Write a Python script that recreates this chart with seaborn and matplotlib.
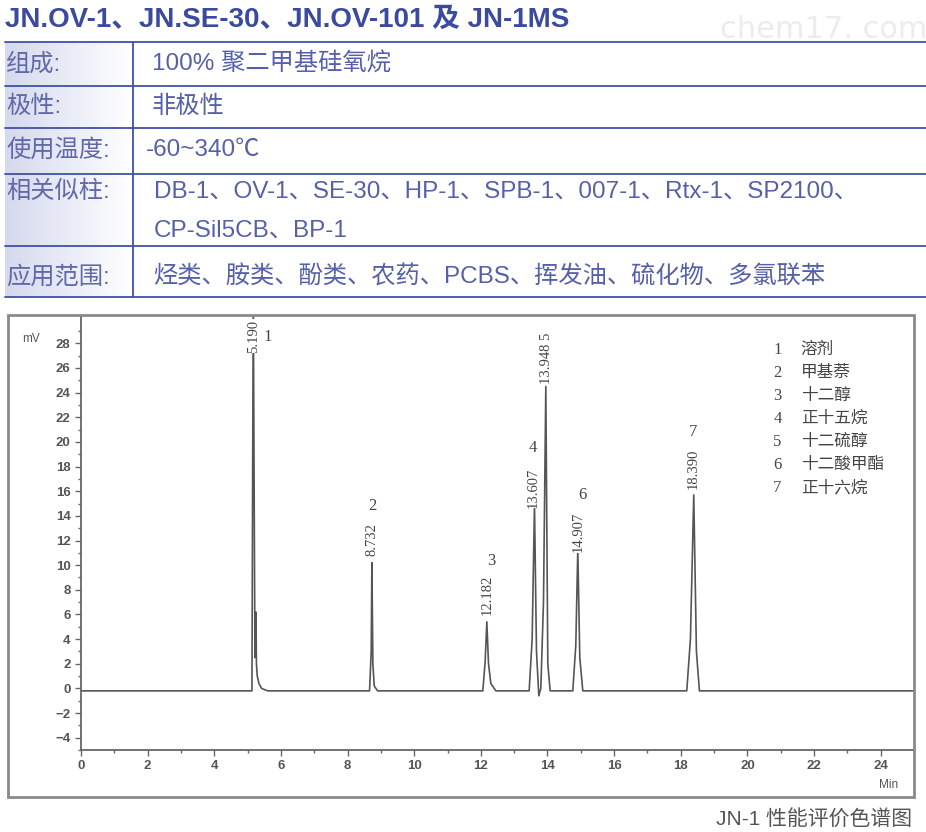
import numpy as np
import pandas as pd
import matplotlib
matplotlib.use("Agg")
import matplotlib.pyplot as plt
from matplotlib.lines import Line2D
from matplotlib.patches import Rectangle
from matplotlib.colors import LinearSegmentedColormap
import seaborn as sns

# ---- 数据 ----
title = "JN.OV-1、JN.SE-30、JN.OV-101 及 JN-1MS"
row_names = ["组成:", "极性:", "使用温度:", "相关似柱:", "应用范围:"]
row_values = [
    ["100% 聚二甲基硅氧烷"],
    ["非极性"],
    ["-60~340℃"],
    ["DB-1、OV-1、SE-30、HP-1、SPB-1、007-1、Rtx-1、SP2100、", "CP-Sil5CB、BP-1"],
    ["烃类、胺类、酚类、农药、PCBS、挥发油、硫化物、多氯联苯"],
]

# 色谱曲线 (min, mV)
trace_time = [0, 5.13, 5.17, 5.22, 5.25, 5.265, 5.29, 5.34, 5.42, 5.6,
              8.66, 8.71, 8.73, 8.76, 8.80, 8.9,
              12.06, 12.13, 12.18, 12.23, 12.30, 12.45,
              13.45, 13.54, 13.61, 13.67, 13.74, 13.80, 13.88, 13.95, 14.01, 14.08,
              14.76, 14.85, 14.91, 14.97, 15.06,
              18.18, 18.29, 18.39, 18.47, 18.56, 25]
trace_mv = [-0.2, -0.2, 32, 2.5, 6.2, 2.0, 1.0, 0.4, 0.0, -0.2,
            -0.2, 3, 10.2, 2, 0.2, -0.2,
            -0.2, 2.2, 5.4, 2, 0.4, -0.2,
            -0.2, 4, 14.9, 3, -0.6, 0, 7, 24.5, 2, -0.2,
            -0.2, 3.5, 11.3, 2.5, -0.2,
            -0.2, 4, 15.7, 3, -0.2, -0.2]

peak_ids = ["1", "2", "3", "4", "5", "6", "7"]
peak_times = ["5.190", "8.732", "12.182", "13.607", "13.948", "14.907", "18.390"]
peak_names = ["溶剂", "甲基萘", "十二醇", "正十五烷", "十二硫醇", "十二酸甲酯", "正十六烷"]
caption = "JN-1 性能评价色谱图"

# ---- 版式 ----
W, H = 926, 832
fig = plt.figure(figsize=(W / 100, H / 100), dpi=100)
sns.set_style("ticks")
plt.rcParams['font.family'] = ['Liberation Sans', 'Noto Sans CJK SC', 'DejaVu Sans']


def fx(x):
    return x / W


def fy(y):
    return 1 - y / H


blue = "#3a4a9e"
txt_blue = "#5560aa"
line_blue = "#4050a8"

# 标题与水印
fig.text(fx(5), fy(20), title, fontsize=20, fontweight="bold", color=blue, va="center", ha="left")
fig.text(fx(720), fy(30), "chem17. com", fontsize=22, color="#ececec", va="center", ha="left",
         family=["DejaVu Sans"])

# 左列渐变底色
gax = fig.add_axes([fx(5), fy(297), fx(133) - fx(5), fy(42) - fy(297)], zorder=0)
cmap = LinearSegmentedColormap.from_list("g", ["#d5d9ee", "#ffffff"])
gax.imshow(np.linspace(0, 1, 200).reshape(1, -1), aspect="auto", cmap=cmap, extent=[0, 1, 0, 1])
gax.axis("off")

# 表格线
for y in [42, 86, 128, 174, 246, 297]:
    fig.add_artist(Line2D([fx(5), fx(926)], [fy(y), fy(y)], color=line_blue, lw=1.3))
fig.add_artist(Line2D([fx(133), fx(133)], [fy(42), fy(297)], color=line_blue, lw=1.3))

name_y = [64, 107, 150, 192, 277]
value_y = [[64], [107], [150], [192, 231], [277]]
value_x = [152, 152, 146, 154, 153]
for name, ny, vals, vys, vx in zip(row_names, name_y, row_values, value_y, value_x):
    fig.text(fx(6), fy(ny), name, fontsize=17.5, color="#6068a8", va="center", ha="left")
    for v, vy in zip(vals, vys):
        fig.text(fx(vx), fy(vy), v, fontsize=17.5, color=txt_blue, va="center", ha="left")

# 色谱图外框
fig.add_artist(Rectangle((fx(8), fy(797)), fx(914) - fx(8), fy(315) - fy(797),
                         fill=False, edgecolor="#8a8a8a", lw=2))

ax = fig.add_axes([fx(81), fy(750), fx(914) - fx(81), fy(315) - fy(750)])
df = pd.DataFrame({"time": trace_time, "mv": trace_mv})
sns.lineplot(data=df, x="time", y="mv", ax=ax, color="#555555", lw=1.2, estimator=None, sort=False)

ax.set_xlim(0, 25)
ax.set_ylim(-5, 30.3)
ax.set_xticks(np.arange(0, 25, 2))
ax.set_xticks(np.arange(0, 25, 1), minor=True)
ax.set_yticks(np.arange(-4, 29, 2))
ax.set_yticks(np.arange(-5, 30, 1), minor=True)
ax.set_xlabel("")
ax.set_ylabel("")
for s in ["top", "right"]:
    ax.spines[s].set_visible(False)
for s in ["left", "bottom"]:
    ax.spines[s].set_color("#666666")
    ax.spines[s].set_linewidth(1.3)
ax.tick_params(which="major", length=4, width=1, color="#666666", labelsize=9.5, labelcolor="#555555")
ax.tick_params(which="minor", length=2.5, width=1, color="#666666")
for lab in ax.get_xticklabels() + ax.get_yticklabels():
    lab.set_family(["Liberation Sans"])
    lab.set_fontweight("bold")

fig.text(fx(31), fy(339), "mV", fontsize=8.5, color="#555555", ha="center", va="center")
fig.text(fx(889), fy(785), "Min", fontsize=8.5, color="#555555", ha="center", va="center")

# 峰标注 (保留时间竖排 + 峰号)
serif = ["Liberation Serif"]
time_pos = [(5.19, 28.6), (8.73, 12.1), (12.18, 7.6), (13.57, 16.3), (13.96, 26.8), (14.92, 12.7), (18.38, 17.8)]
id_pos = [(5.6, 28.5), (8.73, 14.8), (12.3, 10.3), (13.55, 19.5), None, (15.05, 15.7), (18.38, 20.8)]
for pid, pt, tp, ip in zip(peak_ids, peak_times, time_pos, id_pos):
    label = pt if ip is not None else pt + " " + pid
    ax.text(tp[0], tp[1], label, rotation=90, fontsize=10.5, color="#444444", family=serif,
            ha="center", va="center",
            bbox=dict(facecolor="white", edgecolor="none", pad=0.5))
    if ip is not None:
        ax.text(ip[0], ip[1], pid, fontsize=12, color="#444444", family=serif, ha="center", va="center")

# 组分列表
for i, (pid, nm) in enumerate(zip(peak_ids, peak_names)):
    yy = 27.5 - i * 1.87
    ax.text(20.9, yy, pid, fontsize=12, color="#444444", family=serif, ha="center", va="center")
    ax.text(21.6, yy, nm, fontsize=12, color="#444444", family=["Noto Sans CJK SC"], ha="left", va="center")

fig.text(fx(912), fy(819), caption, fontsize=15, color="#555555", ha="right", va="center")

fig.savefig("out.png", dpi=100)
